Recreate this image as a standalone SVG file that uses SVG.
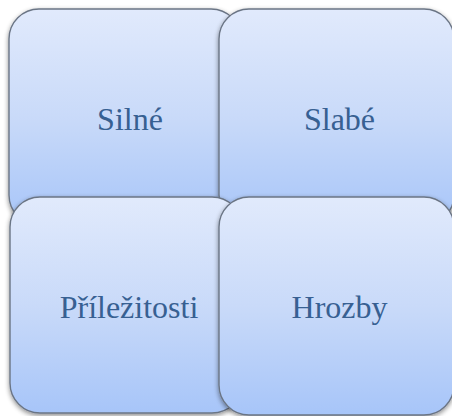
<svg xmlns="http://www.w3.org/2000/svg" width="452" height="416" viewBox="0 0 452 416">
  <defs>
    <linearGradient id="g" x1="0" y1="0" x2="0" y2="1">
      <stop offset="0" stop-color="#e1eafc"/>
      <stop offset="0.5" stop-color="#c9daf9"/>
      <stop offset="1" stop-color="#a7c5f9"/>
    </linearGradient>
    <filter id="sh" x="-10%" y="-10%" width="120%" height="120%">
      <feGaussianBlur in="SourceAlpha" stdDeviation="2.5"/>
      <feOffset dx="0" dy="1.5" result="b"/>
      <feComponentTransfer><feFuncA type="linear" slope="0.45"/></feComponentTransfer>
      <feMerge><feMergeNode/><feMergeNode in="SourceGraphic"/></feMerge>
    </filter>
  </defs>
  <style>
    .box { fill: url(#g); stroke: #6b7585; stroke-width: 1.4; filter: url(#sh); }
    .lbl { font-family: "Liberation Serif", "Times New Roman", serif; font-size: 32px; fill: #376092; text-anchor: middle; }
  </style>
  <rect width="452" height="416" fill="#ffffff"/>
  <g id="silne">
    <rect class="box" x="9" y="9" width="232" height="216" rx="30" ry="30"/>
    <text class="lbl" x="130" y="130">Silné</text>
  </g>
  <g id="slabe">
    <rect class="box" x="219" y="9" width="235" height="216" rx="30" ry="30"/>
    <text class="lbl" x="339.5" y="130">Slabé</text>
  </g>
  <g id="prilezitosti">
    <rect class="box" x="10" y="197" width="232" height="216" rx="30" ry="30"/>
    <text class="lbl" x="129" y="318">Příležitosti</text>
  </g>
  <g id="hrozby">
    <rect class="box" x="219" y="197" width="235" height="218" rx="30" ry="30"/>
    <text class="lbl" x="339.5" y="318">Hrozby</text>
  </g>
  <g id="connectors"/>
</svg>
